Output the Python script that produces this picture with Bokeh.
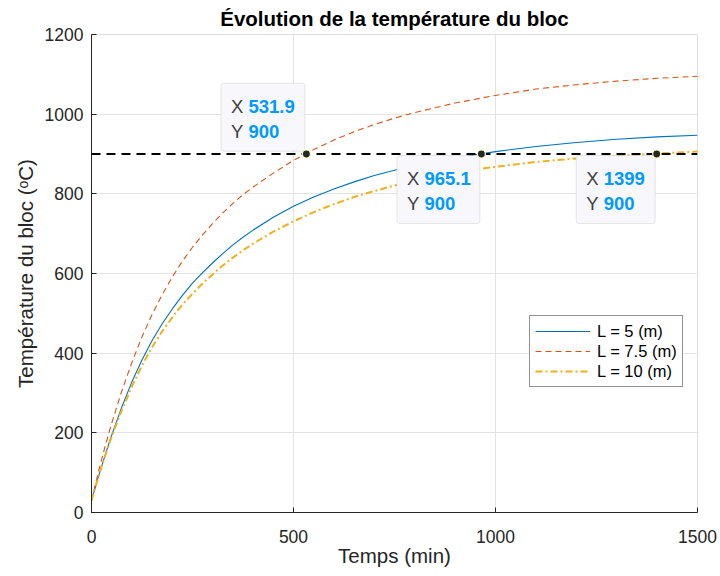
from bokeh.plotting import figure
from bokeh.models import BoxAnnotation, FixedTicker, Legend, LegendItem, Range1d, Span
from bokeh.embed import file_html
from bokeh.resources import INLINE
from bokeh.core.properties import value

# ---------------- data ----------------
t_min = [0, 5, 10, 15, 25, 35, 50, 75, 100, 125, 150, 175, 200, 225, 250, 275, 300,
         325, 350, 375, 400, 450, 500, 550, 600, 650, 700, 750, 800,
         900, 1000, 1100, 1200, 1300, 1400, 1500]
T_L5 = [30, 48, 65, 83, 116, 148, 194, 265, 328, 383, 432, 474, 511, 545, 576, 602, 627,
        650, 672, 691, 709, 741, 769, 792, 812, 830, 846, 859, 871,
        890, 906, 919, 929, 937, 943, 947]
T_L75 = [30, 51, 72, 93, 133, 171, 224, 305, 377, 441, 497, 547, 591, 631, 666, 697, 726,
         752, 776, 798, 817, 852, 884, 911, 935, 956, 974, 990, 1004,
         1028, 1047, 1063, 1074, 1083, 1090, 1095]
T_L10 = [30, 48, 65, 82, 115, 147, 191, 257, 316, 369, 415, 455, 490, 522, 549, 575, 598,
         620, 640, 658, 675, 705, 731, 754, 774, 792, 807, 821, 833,
         853, 868, 880, 889, 895, 901, 906]
series_labels = ["L = 5 (m)", "L = 7.5 (m)", "L = 10 (m)"]

threshold = 900
tip_x = [531.9, 965.1, 1399]
tip_y = [900, 900, 900]
tip_xtext = ["531.9", "965.1", "1399"]
tip_ytext = ["900", "900", "900"]

x_ticks = [0, 500, 1000, 1500]
y_ticks = [0, 200, 400, 600, 800, 1000, 1200]

# ---------------- styles / layout ----------------
FONT = "Liberation Sans"
DARK = "#262626"
FW, FH = 606, 478
XMIN, XMAX = x_ticks[0], x_ticks[-1]
YMIN, YMAX = y_ticks[0], y_ticks[-1]
dx = (XMAX - XMIN) / FW
dy = (YMAX - YMIN) / FH

tip_above = [True, False, False]
tip_wpx = [84, 83, 79]
tip_hpx = 68

p = figure(frame_width=FW, frame_height=FH,
           x_range=Range1d(XMIN, XMAX), y_range=Range1d(YMIN, YMAX),
           output_backend="svg", toolbar_location=None,
           min_border_left=91, min_border_right=23,
           min_border_top=34, min_border_bottom=64,
           background_fill_color="white", border_fill_color="white")

p.title.text = "Évolution de la température du bloc"
p.title.text_font = FONT
p.title.text_font_size = "20.5px"
p.title.text_font_style = "bold"
p.title.text_color = "black"
p.title.align = "center"
p.title.standoff = 9

p.outline_line_color = "#dedede"
p.grid.grid_line_color = "#e3e3e3"
p.grid.grid_line_width = 1
p.xaxis.ticker = FixedTicker(ticks=x_ticks)
p.yaxis.ticker = FixedTicker(ticks=y_ticks)
for ax in (p.xaxis, p.yaxis):
    ax.axis_line_color = DARK
    ax.major_tick_line_color = DARK
    ax.major_tick_in = 5
    ax.major_tick_out = 0
    ax.minor_tick_line_color = None
    ax.major_label_text_font = FONT
    ax.major_label_text_font_size = "17.5px"
    ax.major_label_text_color = DARK
    ax.axis_label_text_font = FONT
    ax.axis_label_text_font_size = "20.5px"
    ax.axis_label_text_font_style = "normal"
    ax.axis_label_text_color = DARK
p.xaxis.axis_label = "Temps (min)"
p.yaxis.axis_label = "Température du bloc (ᵒC)"
p.xaxis.major_label_standoff = 17
p.yaxis.major_label_standoff = 8
p.xaxis.axis_label_standoff = -2
p.yaxis.axis_label_standoff = 5

r1 = p.line(t_min, T_L5, line_color="#0072BD", line_width=1.1)
r2 = p.line(t_min, T_L75, line_color="#D95319", line_width=1.1, line_dash="6 4")
r3 = p.line(t_min, T_L10, line_color="#EDB120", line_width=2, line_dash="7 3 2 3")

p.add_layout(Span(location=threshold, dimension="width", line_color="black",
                  line_width=2, line_dash="9 6"))

legend = Legend(items=[LegendItem(label=series_labels[0], renderers=[r1]),
                       LegendItem(label=series_labels[1], renderers=[r2]),
                       LegendItem(label=series_labels[2], renderers=[r3])],
                location=(438, 125), padding=5, spacing=0, margin=0,
                glyph_width=55, glyph_height=20, label_height=20,
                label_standoff=7, label_text_font=FONT,
                label_text_font_size="16.5px", label_text_color="black",
                border_line_color=DARK, border_line_width=1,
                background_fill_color="white", background_fill_alpha=1)
p.add_layout(legend)

# data tips
lab_x, lab_y, lab_t = [], [], []
val_x, val_y, val_t = [], [], []
for i in range(len(tip_x)):
    right = tip_x[i] - 1.5 * dx
    left = right - tip_wpx[i] * dx
    if tip_above[i]:
        bottom = tip_y[i] + 2.8 * dy
        top = bottom + tip_hpx * dy
    else:
        top = tip_y[i] - 1.5 * dy
        bottom = top - tip_hpx * dy
    p.add_layout(BoxAnnotation(left=left, right=right, top=top, bottom=bottom,
                               fill_color="#f8f8fc", fill_alpha=1,
                               line_color="#b4b4b4", line_width=1,
                               border_radius=3))
    row1 = top - 22.8 * dy
    row2 = top - 47.8 * dy
    lab_x += [left + 10 * dx, left + 10 * dx]
    lab_y += [row1, row2]
    lab_t += ["X", "Y"]
    val_x += [left + 27.5 * dx, left + 27.5 * dx]
    val_y += [row1, row2]
    val_t += [tip_xtext[i], tip_ytext[i]]

p.text(x=lab_x, y=lab_y, text=lab_t, text_font=value(FONT), text_font_size="18.5px",
       text_color="#404040", text_baseline="middle", text_align="left", level="overlay")
p.text(x=val_x, y=val_y, text=val_t, text_font=value(FONT), text_font_size="18.5px",
       text_font_style="bold", text_color="#0099ff", text_baseline="middle",
       text_align="left", level="overlay")
p.scatter(tip_x, tip_y, size=8, fill_color=DARK, line_color="#ffffc0",
          line_width=1.2, level="overlay")

open("out.html", "w").write(file_html(p, INLINE))
